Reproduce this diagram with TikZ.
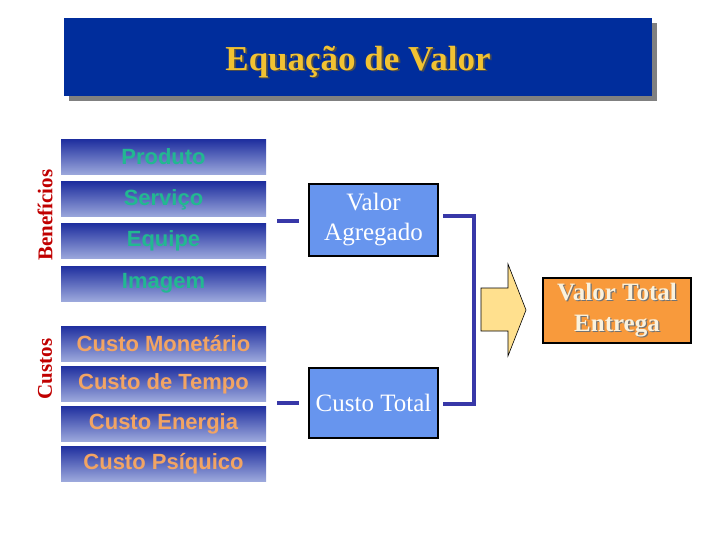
\documentclass[tikz,border=0pt]{standalone}
\usepackage{fontspec}
\setmainfont{Liberation Serif}
\newfontfamily\arialf{Liberation Sans}
\usetikzlibrary{shadows,calc}
\definecolor{titleblue}{HTML}{002D9C}
\definecolor{titlegold}{HTML}{F2C232}
\definecolor{gradtop}{HTML}{1F2F9F}
\definecolor{gradbot}{HTML}{9CA8DC}
\definecolor{tealtxt}{HTML}{22B891}
\definecolor{orangetxt}{HTML}{F2A463}
\definecolor{sidered}{HTML}{C00000}
\definecolor{boxblue}{HTML}{6795EE}
\definecolor{dashblue}{HTML}{3838A8}
\definecolor{arrowyellow}{HTML}{FFE08E}
\definecolor{totalorange}{HTML}{F89A3C}
\definecolor{creamtxt}{HTML}{FAF2DE}
\newcommand{\shadowtext}[3]{\rlap{\raisebox{-#2}{\kern#2\textcolor{#3}{#1}}}#1}
\tikzset{
  itembox/.style={rectangle, minimum width=205pt, minimum height=35pt, inner sep=0pt,
    top color=gradtop, bottom color=gradbot, font=\arialf\bfseries\fontsize{22}{24}\selectfont},
  benitem/.style={itembox, text=tealtxt},
  costitem/.style={itembox, text=orangetxt},
  sidelabel/.style={rotate=90, text=sidered, font=\bfseries\fontsize{21}{24}\selectfont, inner sep=0pt},
  resultbox/.style={rectangle, draw=black, line width=1.6pt, fill=boxblue, text=white,
    minimum width=129pt, inner sep=0pt, align=center, font=\fontsize{25}{30}\selectfont},
  stub/.style={draw=dashblue, line width=3.6pt},
}
\begin{document}
\begin{tikzpicture}[x=1pt,y=-1pt]
\useasboundingbox (0,0) rectangle (720,540);
% title
\node[rectangle, fill=titleblue, minimum width=588pt, minimum height=78pt, inner sep=0pt,
  drop shadow={shadow xshift=5pt, shadow yshift=-5pt, fill=black!50, opacity=1}] (title) at (358,57) {};
\node[text=titlegold, font=\bfseries\fontsize{35}{40}\selectfont] (titletext) at (358,62.5)
  {\shadowtext{Equação de Valor}{1.8pt}{black!70}};
% benefits
\node[benitem] (produto) at (163.5,157) {Produto};
\node[benitem] (servico) at (163.5,199.5) {Serviço};
\node[benitem] (equipe) at (163.5,241) {Equipe};
\node[benitem] (imagem) at (163.5,283.5) {Imagem};
% costs
\node[costitem] (monetario) at (163.5,343.5) {Custo Monetário};
\node[costitem] (tempo) at (163.5,383.5) {Custo de Tempo};
\node[costitem] (energia) at (163.5,423.5) {Custo Energia};
\node[costitem] (psiquico) at (163.5,463.5) {Custo Psíquico};
% side labels
\node[sidelabel] (beneficios) at (45,215) {Benefícios};
\node[sidelabel] (custos) at (45,369) {Custos};
% result boxes
\node[resultbox, minimum height=72pt] (va) at (373.5,220) {Valor\\Agregado};
\node[resultbox, minimum height=70pt] (ct) at (373.5,403) {Custo Total};
% stubs
\coordinate (vaL1) at (277,221); \coordinate (vaL2) at (299,221);
\coordinate (ctL1) at (277,403); \coordinate (ctL2) at (299,403);
\draw[stub] (vaL1) -- (vaL2);
\draw[stub] (ctL1) -- (ctL2);
\coordinate (vaR) at (443,216);
\coordinate (ctR) at (443,404);
\coordinate (bar) at (474,310);
\draw[stub, line join=miter] (vaR) -| (bar) |- (ctR);
% arrow
\draw[fill=arrowyellow, draw=black, line width=0.6pt]
  (481,288) -- (508,288) -- (508,264) -- (526,310) -- (508,356) -- (508,331) -- (481,331) -- cycle;
% total
\node[rectangle, draw=black, line width=1.8pt, fill=totalorange, minimum width=148pt, minimum height=65pt,
  inner sep=0pt, text=creamtxt, align=center, font=\bfseries\fontsize{25}{31}\selectfont] (vt) at (617,310.5)
  {\shadowtext{Valor Total}{1.3pt}{black!55}\\\shadowtext{Entrega}{1.3pt}{black!55}};
\end{tikzpicture}
\end{document}
